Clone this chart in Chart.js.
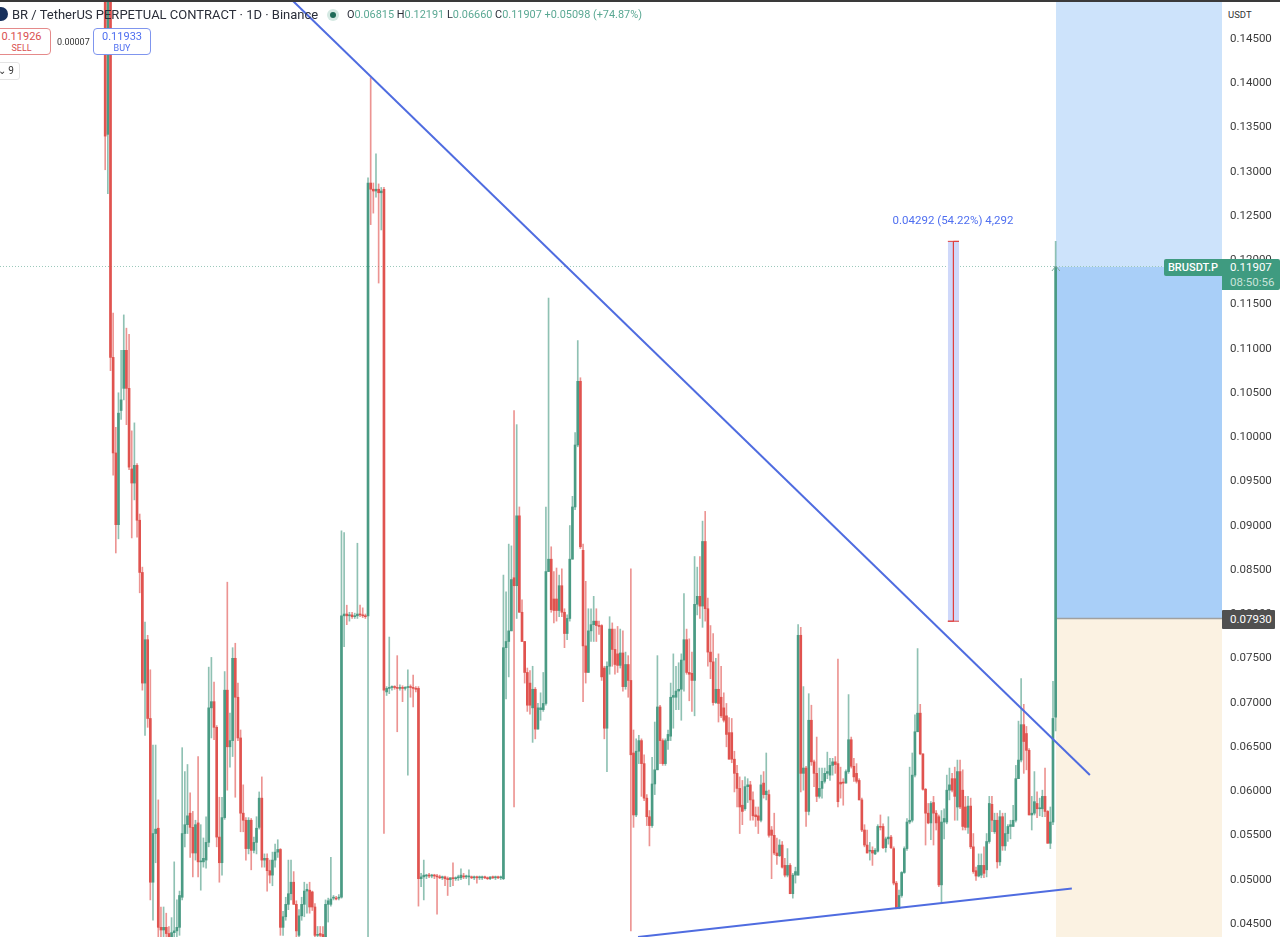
<!DOCTYPE html>
<html>
<head>
<meta charset="utf-8">
<title>BRUSDT.P</title>
<script src="https://cdn.jsdelivr.net/npm/chart.js@4/dist/chart.umd.min.js"></script>
<style>
  html, body { margin: 0; padding: 0; background: #fff; overflow: hidden; }
  #wrap { position: relative; width: 1280px; height: 937px; overflow: hidden; font-family: Roboto, sans-serif; }
  #wrap div { position: absolute; white-space: nowrap; box-sizing: border-box; }
  #topline { left: 0; top: 0; width: 1280px; height: 2px; background: #3a3a3a; }
  #logo { left: -6px; top: 7px; width: 14px; height: 14px; border-radius: 50%; background: #17305c; }
  #title { left: 12px; top: 6px; font-size: 13px; line-height: 17px; color: #2a2e39; }
  #dot { left: 327px; top: 9px; width: 12px; height: 12px; border-radius: 50%; background: #d5e9e3; }
  #dot2 { left: 330px; top: 12px; width: 6px; height: 6px; border-radius: 50%; background: #1f6b58; }
  #ohlc { left: 347px; top: 8px; font-size: 10.9px; line-height: 14px; color: #5aa893; }
  #ohlc b { font-weight: 400; color: #2a2e39; }
  .box { top: 28px; height: 27px; background: #fff; border-radius: 4px; text-align: center; font-size: 11px; line-height: 12px; padding-top: 2px; }
  .box span { display: block; font-size: 9px; line-height: 11px; }
  #sell { left: -8px; width: 59px; border: 1px solid #e58a8a; color: #d9504f; }
  #buy { left: 93px; width: 58px; border: 1px solid #7f95ee; color: #4f6ff0; }
  #spread { left: 57px; top: 36px; font-size: 9px; line-height: 12px; color: #333; }
  #fold { left: -4px; top: 62px; width: 24px; height: 18px; background: #fff; border: 1px solid #e4e4e4; border-radius: 3px; font-size: 10px; line-height: 16px; color: #333; text-align: right; padding-right: 5px; }
  #unit { left: 1224px; top: 5px; width: 54px; height: 20px; background: #fff; font-size: 9.5px; line-height: 20px; color: #333; padding-left: 4px; }
  #tagName { left: 1164px; top: 259px; width: 58px; height: 17px; background: #3f9b80; color: #fff; font-size: 11px; font-weight: 500; line-height: 17px; text-align: center; border-radius: 2px 0 0 2px; }
  #tagPrice { left: 1222px; top: 259px; width: 58px; height: 31px; background: #3f9b80; color: #fff; font-size: 11.5px; line-height: 15px; padding: 1px 0 0 8px; border-radius: 0 2px 2px 0; }
  #tagPrice span { display: block; color: #c8e3da; }
  #tagCross { left: 1222px; top: 610px; width: 53px; height: 19px; background: #505050; color: #fff; font-size: 11.5px; line-height: 19px; padding-left: 8px; border-radius: 1px; }
  #measure { left: 853px; top: 213px; width: 200px; text-align: center; font-size: 11.5px; line-height: 15px; color: #4f6ff0; }
</style>
</head>
<body>
<div id="wrap">
  <canvas id="chart" width="1280" height="937"></canvas>
  <div id="topline"></div>
  <div id="logo"></div>
  <div id="title">BR / TetherUS PERPETUAL CONTRACT · 1D · Binance</div>
  <div id="dot"></div><div id="dot2"></div>
  <div id="ohlc"><b>O</b>0.06815 <b>H</b>0.12191 <b>L</b>0.06660 <b>C</b>0.11907 +0.05098 (+74.87%)</div>
  <div id="sell" class="box">0.11926<span>SELL</span></div>
  <div id="spread">0.00007</div>
  <div id="buy" class="box">0.11933<span>BUY</span></div>
  <div id="fold">⌄ 9</div>
  <div id="unit">USDT</div>
  <div id="measure">0.04292 (54.22%) 4,292</div>
  <div id="tagName">BRUSDT.P</div>
  <div id="tagPrice">0.11907<span>08:50:56</span></div>
  <div id="tagCross">0.07930</div>
</div>
<script>
// rows are [open, high, low, close], one per daily candle
const crashLeg = [
  [.1530,.1560,.1300,.1338],[.1340,.1540,.1273,.1510],[.1510,.1540,.1073,.1088],[.1088,.1138,.0955,.0980],
  [.0980,.1009,.0867,.0899],[.0899,.1048,.0883,.1025],[.1028,.1096,.1018,.1040],[.1053,.1136,.1040,.1096],
  [.1096,.1121,.1012,.1053],[.1053,.1114,.0961,.0964],[.0962,.1005,.0884,.0946],[.0946,.1014,.0927,.0966],
  [.0966,.0968,.0885,.0904],[.0904,.0911,.0822,.0845],[.0845,.0851,.0712,.0720],[.0720,.0789,.0661,.0769],
  [.0769,.0774,.0670,.0680],[.0680,.0735,.0475,.0495],[.0495,.0650,.0452,.0550],[.0550,.0650,.0517,.0555],
  [.0556,.0588,.0430,.0444],[.0444,.0467,.0430,.0441],[.0441,.0467,.0425,.0444],[.0444,.0460,.0430,.0437],
  [.0437,.0445,.0425,.0433],[.0433,.0455,.0425,.0438],[.0438,.0518,.0430,.0440],[.0440,.0475,.0430,.0444],
  [.0444,.0485,.0435,.0480],[.0478,.0647,.0475,.0550],[.0550,.0620,.0535,.0560],[.0560,.0628,.0550,.0570],
  [.0573,.0596,.0523,.0557],[.0557,.0575,.0501,.0528],[.0528,.0565,.0520,.0560],[.0562,.0637,.0501,.0518],
  [.0518,.0560,.0486,.0518],[.0518,.0545,.0512,.0522],[.0520,.0569,.0511,.0540]
];
const firstBounce = [
  [.0540,.0738,.0535,.0692],[.0692,.0749,.0658,.0699],[.0699,.0721,.0656,.0670],[.0670,.0672,.0535,.0546],
  [.0546,.0591,.0495,.0517],[.0517,.0591,.0503,.0568],[.0568,.0733,.0566,.0712],[.0712,.0834,.0599,.0648],
  [.0648,.0686,.0625,.0655],[.0655,.0760,.0637,.0748],[.0748,.0765,.0591,.0704],[.0704,.0720,.0655,.0658],
  [.0658,.0667,.0552,.0573],[.0573,.0605,.0552,.0565],[.0565,.0568,.0520,.0533],[.0533,.0568,.0527,.0565],
  [.0565,.0567,.0509,.0531],[.0531,.0546,.0528,.0540],[.0540,.0569,.0527,.0556],[.0557,.0597,.0555,.0590],
  [.0590,.0614,.0512,.0520],[.0520,.0527,.0512,.0522],[.0522,.0527,.0485,.0508],[.0508,.0520,.0494,.0503],
  [.0503,.0529,.0491,.0520],[.0520,.0538,.0512,.0529],[.0529,.0543,.0523,.0532],[.0532,.0533,.0435,.0444],
  [.0444,.0462,.0435,.0456],[.0456,.0478,.0452,.0470],[.0470,.0520,.0464,.0482],[.0482,.0520,.0475,.0495],
  [.0495,.0507,.0470,.0470],[.0470,.0474,.0430,.0440],[.0435,.0464,.0430,.0457],[.0457,.0478,.0452,.0470],
  [.0470,.0495,.0456,.0485],[.0485,.0493,.0460,.0487],[.0486,.0495,.0460,.0467],[.0484,.0485,.0463,.0467],
  [.0467,.0471,.0428,.0435],[.0435,.0445,.0430,.0436],[.0437,.0445,.0425,.0435],[.0436,.0445,.0428,.0432],
  [.0433,.0475,.0425,.0470],[.0470,.0477,.0450,.0474],[.0470,.0523,.0468,.0476],[.0477,.0480,.0475,.0477],
  [.0477,.0479,.0475,.0476],[.0477,.0481,.0475,.0478]
];
const firstSpike = [
  [.0478,.0892,.0477,.0796],[.0796,.0890,.0761,.0798],[.0798,.0808,.0786,.0796],[.0796,.0800,.0790,.0797],
  [.0797,.0800,.0793,.0795],[.0795,.0799,.0793,.0796],[.0796,.0878,.0793,.0798],[.0798,.0808,.0795,.0797],
  [.0797,.0805,.0794,.0796],[.0796,.0798,.0793,.0795],[.0796,.1291,.0430,.1285],[.1285,.1404,.1238,.1278],
  [.1278,.1285,.1251,.1276],[.1276,.1318,.1269,.1278],[.1278,.1284,.1172,.1274],[.1274,.1280,.1232,.1276],
  [.1278,.1280,.0550,.0712],[.0710,.0716,.0706,.0714],[.0714,.0772,.0708,.0715],[.0715,.0717,.0712,.0716],
  [.0716,.0717,.0713,.0715],[.0715,.0751,.0665,.0714],[.0714,.0718,.0712,.0715],[.0715,.0717,.0699,.0714],
  [.0714,.0716,.0712,.0715],[.0715,.0735,.0616,.0716],[.0716,.0718,.0704,.0715],[.0715,.0729,.0693,.0714],
  [.0714,.0716,.0710,.0713],[.0714,.0716,.0468,.0499]
];
const flatBase = [
  [.0499,.0505,.0490,.0501],[.0501,.0520,.0475,.0503],[.0502,.0504,.0499,.0503],[.0503,.0505,.0500,.0502],
  [.0502,.0504,.0500,.0503],[.0503,.0504,.0499,.0502],[.0502,.0504,.0459,.0501],[.0501,.0503,.0499,.0500],
  [.0500,.0502,.0498,.0501],[.0501,.0502,.0491,.0499],[.0499,.0501,.0480,.0498],[.0498,.0500,.0490,.0500],
  [.0500,.0517,.0491,.0499],[.0499,.0501,.0497,.0500],[.0500,.0503,.0497,.0501],[.0500,.0510,.0498,.0503],
  [.0502,.0505,.0499,.0501],[.0501,.0503,.0499,.0502],[.0501,.0509,.0492,.0502],[.0501,.0502,.0499,.0500],
  [.0500,.0502,.0498,.0501],[.0501,.0502,.0494,.0500],[.0500,.0502,.0498,.0500],[.0500,.0502,.0498,.0501],
  [.0501,.0502,.0499,.0500],[.0500,.0501,.0498,.0499],[.0499,.0501,.0498,.0501],[.0501,.0502,.0499,.0500],
  [.0500,.0502,.0498,.0501],[.0501,.0502,.0499,.0500],[.0500,.0502,.0498,.0500]
];
const midRange = [
  [.0499,.0842,.0498,.0760],[.0760,.0823,.0702,.0767],[.0767,.0877,.0727,.0779],[.0779,.0875,.0779,.0837],
  [.0839,.1028,.0580,.0830],[.0830,.1012,.0793,.0909],[.0909,.0919,.0800,.0800],[.0800,.0814,.0767,.0767],
  [.0767,.0767,.0720,.0732],[.0732,.0737,.0688,.0695],[.0720,.0734,.0685,.0695],[.0692,.0739,.0653,.0713],
  [.0713,.0715,.0657,.0668],[.0668,.0697,.0668,.0692],[.0690,.0709,.0678,.0692],[.0690,.0732,.0688,.0697],
  [.0697,.0919,.0695,.0846],[.0846,.1155,.0846,.0860],[.0860,.0874,.0800,.0803],[.0815,.0846,.0788,.0802],
  [.0815,.0850,.0790,.0802],[.0802,.0842,.0795,.0830],[.0830,.0849,.0795,.0800],[.0800,.0804,.0760,.0776],
  [.0776,.0797,.0769,.0793],[.0793,.0898,.0790,.0860],[.0860,.0931,.0860,.0919],[.0919,.1003,.0916,.0989],
  [.0989,.1107,.0987,.1061],[.1061,.1065,.0872,.0874],[.0870,.0877,.0699,.0762],[.0762,.0835,.0720,.0732],
  [.0732,.0804,.0732,.0779],[.0779,.0804,.0767,.0786],[.0786,.0818,.0767,.0790],[.0790,.0804,.0767,.0785],
  [.0785,.0790,.0775,.0784],[.0785,.0786,.0723,.0727],[.0737,.0739,.0657,.0669],[.0669,.0744,.0620,.0739],
  [.0739,.0795,.0730,.0781],[.0781,.0788,.0739,.0758],[.0758,.0781,.0730,.0741],[.0753,.0784,.0732,.0740],
  [.0740,.0781,.0737,.0754],[.0754,.0779,.0711,.0716],[.0716,.0755,.0713,.0741],[.0741,.0751,.0704,.0723],
  [.0723,.0849,.0440,.0639],[.0641,.0667,.0557,.0571],[.0571,.0657,.0569,.0643],[.0643,.0661,.0629,.0655],
  [.0655,.0657,.0592,.0629],[.0629,.0639,.0587,.0590],[.0590,.0594,.0559,.0569],[.0569,.0576,.0536,.0559],
  [.0559,.0636,.0557,.0606],[.0606,.0676,.0594,.0622],[.0622,.0751,.0622,.0693],[.0693,.0695,.0629,.0655],
  [.0655,.0657,.0627,.0629],[.0629,.0657,.0627,.0655],[.0655,.0667,.0645,.0662],[.0660,.0720,.0655,.0704],
  [.0704,.0753,.0669,.0706],[.0704,.0739,.0690,.0711],[.0711,.0743,.0690,.0713],[.0713,.0753,.0678,.0746],
  [.0746,.0821,.0711,.0769],[.0769,.0781,.0730,.0732],[.0732,.0770,.0700,.0730],[.0731,.0755,.0688,.0723],
  [.0723,.0863,.0683,.0809],[.0809,.0851,.0797,.0818],[.0818,.0863,.0793,.0807],[.0807,.0903,.0783,.0880],
  [.0880,.0914,.0790,.0804],[.0804,.0816,.0739,.0755],[.0755,.0785,.0725,.0744],[.0744,.0776,.0695,.0698],
  [.0698,.0748,.0697,.0713],[.0713,.0753,.0676,.0697],[.0704,.0739,.0681,.0683],[.0692,.0709,.0676,.0678],
  [.0683,.0697,.0648,.0662],[.0664,.0681,.0634,.0634],[.0664,.0680,.0630,.0634],[.0634,.0643,.0597,.0618],
  [.0618,.0627,.0580,.0601],[.0601,.0614,.0550,.0580]
];
const lowerRange = [
  [.0582,.0610,.0560,.0575],[.0578,.0614,.0576,.0603],[.0603,.0612,.0585,.0605],[.0605,.0609,.0565,.0588],
  [.0588,.0597,.0565,.0570],[.0571,.0580,.0558,.0569],[.0570,.0580,.0550,.0565],[.0565,.0616,.0563,.0605],
  [.0607,.0620,.0590,.0594],[.0594,.0641,.0588,.0598],[.0594,.0599,.0546,.0548],[.0554,.0558,.0499,.0548],
  [.0548,.0573,.0526,.0528],[.0528,.0545,.0515,.0525],[.0525,.0543,.0524,.0537],[.0537,.0541,.0511,.0512],
  [.0514,.0522,.0501,.0503],[.0503,.0533,.0501,.0514],[.0514,.0516,.0482,.0482],[.0482,.0505,.0477,.0503],
  [.0503,.0512,.0494,.0507],[.0503,.0786,.0503,.0774],[.0774,.0783,.0597,.0618],[.0618,.0716,.0599,.0624],
  [.0624,.0626,.0558,.0575],[.0575,.0708,.0571,.0678],[.0678,.0695,.0627,.0631],[.0631,.0633,.0603,.0618],
  [.0618,.0659,.0586,.0592],[.0592,.0624,.0590,.0601],[.0601,.0624,.0590,.0609],[.0609,.0624,.0607,.0618],
  [.0618,.0642,.0612,.0620],[.0616,.0635,.0610,.0627],[.0627,.0635,.0616,.0631],[.0631,.0637,.0618,.0628],
  [.0629,.0747,.0580,.0586],[.0608,.0625,.0590,.0606],[.0608,.0612,.0582,.0607],[.0607,.0622,.0607,.0620],
  [.0620,.0707,.0618,.0656],[.0656,.0659,.0624,.0626],[.0626,.0635,.0609,.0614],[.0618,.0629,.0607,.0609],
  [.0610,.0612,.0588,.0588],[.0588,.0590,.0552,.0554],[.0554,.0560,.0535,.0537],[.0537,.0554,.0528,.0528],
  [.0530,.0540,.0520,.0530],[.0531,.0535,.0514,.0528],[.0527,.0533,.0526,.0531],[.0530,.0560,.0529,.0558],
  [.0558,.0571,.0554,.0557],[.0558,.0561,.0533,.0534],[.0534,.0546,.0529,.0544],[.0544,.0569,.0538,.0546],
  [.0546,.0548,.0533,.0534],[.0533,.0535,.0492,.0494],[.0494,.0496,.0465,.0465],[.0465,.0486,.0465,.0480],
  [.0480,.0507,.0478,.0506],[.0506,.0535,.0505,.0533],[.0533,.0567,.0531,.0563],[.0563,.0625,.0561,.0565],
  [.0565,.0641,.0563,.0616],[.0616,.0684,.0614,.0665],[.0665,.0759,.0665,.0686],[.0686,.0696,.0639,.0640],
  [.0640,.0640,.0599,.0600],[.0600,.0601,.0537,.0573],[.0573,.0584,.0561,.0562],[.0562,.0586,.0543,.0584],
  [.0585,.0592,.0537,.0573],[.0573,.0576,.0554,.0562],[.0569,.0571,.0490,.0492],[.0492,.0576,.0471,.0563],
  [.0563,.0578,.0544,.0567],[.0563,.0616,.0561,.0599],[.0599,.0624,.0588,.0605],[.0612,.0618,.0597,.0599],
  [.0612,.0625,.0565,.0592],[.0580,.0633,.0565,.0620],[.0620,.0633,.0578,.0580],[.0599,.0622,.0554,.0558],
  [.0580,.0592,.0554,.0557],[.0557,.0592,.0550,.0581],[.0581,.0590,.0533,.0535],[.0535,.0550,.0505,.0507],
  [.0508,.0512,.0497,.0502],[.0502,.0527,.0501,.0514],[.0503,.0527,.0500,.0514],[.0514,.0535,.0500,.0505],
  [.0509,.0550,.0501,.0541],[.0541,.0592,.0539,.0584],[.0583,.0592,.0552,.0565],[.0552,.0573,.0550,.0565],
  [.0565,.0573,.0511,.0518],[.0518,.0576,.0514,.0569],[.0569,.0573,.0531,.0536],[.0536,.0573,.0531,.0550],
  [.0550,.0560,.0541,.0558],[.0558,.0565,.0544,.0560],[.0558,.0582,.0558,.0565],[.0565,.0627,.0563,.0612],
  [.0612,.0677,.0612,.0633],[.0633,.0725,.0631,.0673],[.0673,.0696,.0618,.0654],[.0663,.0671,.0622,.0644],
  [.0644,.0646,.0571,.0571],[.0571,.0592,.0554,.0573],[.0573,.0620,.0571,.0586],[.0584,.0597,.0568,.0578],
  [.0578,.0590,.0570,.0578],[.0578,.0599,.0569,.0592],[.0592,.0624,.0569,.0575],[.0575,.0576,.0539,.0539],
  [.0539,.0580,.0533,.0563],[.0563,.0722,.0560,.0680],[.06815,.12191,.0666,.11907]
];

const priceTicksStep = 0.005;
const priceRange = [0.04331, 0.14918];      // visible prices, bottom and top of the pane
const dayRange = [-39.62, 420.66];          // visible day numbers, left and right of the pane
const lastPrice = [0.11907];
const entryPrice = [0.0793];
const zoneDays = [358.1, 420.66];
const zoneTops = [0.1492, 0.11907, 0.0793];
const zoneBottoms = [0.11907, 0.0793, 0.0433];
const resistanceDays = [70.36, 370.9];
const resistancePrices = [0.14918, 0.06161];
const supportDays = [200.7, 364.1];
const supportPrices = [0.04331, 0.04879];
const measureDays = [317.4, 319.5, 321.6];
const measurePrices = [0.07899, 0.12191];
const caretDays = [356.6, 358.1, 359.6];
const caretPrices = [0.11856, 0.11912, 0.11856];

const candles = [...crashLeg, ...firstBounce, ...firstSpike, ...flatBase, ...midRange, ...lowerRange];

const GREEN = "#4a9b84";
const RED = "#e0534f";
const GREEN_WICK = "rgba(74,155,132,.62)";
const RED_WICK = "rgba(224,83,79,.62)";
const BLUE = "#4f6ce0";

const barSet = (data, color, thickness, order) => ({
  type: "bar",
  data,
  backgroundColor: color,
  barThickness: thickness,
  grouped: false,
  order,
  minBarLength: 1,
  borderWidth: 0,
});

const lineSet = (data, color, width, order, extra = {}) => ({
  type: "line",
  data,
  borderColor: color,
  borderWidth: width,
  pointRadius: 0,
  tension: 0,
  fill: false,
  order,
  ...extra,
});

const isUp = (row) => row[3] >= row[0];
const wicks = (up) =>
  candles
    .map((row, i) => ({ x: i, y: [row[2], row[1]], up: isUp(row) }))
    .filter((p) => p.up === up);
const bodies = (up) =>
  candles
    .map((row, i) => ({ x: i, y: [Math.min(row[0], row[3]), Math.max(row[0], row[3])], up: isUp(row) }))
    .filter((p) => p.up === up);

const zone = (i, color) =>
  lineSet(
    zoneDays.map((x) => ({ x, y: zoneTops[i] })),
    "transparent",
    0,
    20,
    { fill: { value: zoneBottoms[i] }, backgroundColor: color },
  );

const [mLeft, mMid, mRight] = measureDays;
const [mLow, mHigh] = measurePrices;

new Chart(document.getElementById("chart"), {
  data: {
    datasets: [
      zone(0, "#cde3fb"),
      zone(1, "#a9cff8"),
      zone(2, "#fbf2e2"),
      lineSet(zoneDays.map((x) => ({ x, y: entryPrice[0] })), "#a0a0a0", 1.5, 19),
      lineSet(dayRange.map((x) => ({ x, y: lastPrice[0] })), "#9ac8bb", 1, 18, { borderDash: [1, 2] }),
      lineSet(
        [{ x: mLeft, y: mHigh }, { x: mRight, y: mHigh }],
        "transparent",
        0,
        17,
        { fill: { value: mLow }, backgroundColor: "#cfd8fa" },
      ),
      barSet(wicks(true), GREEN_WICK, 1, 9),
      barSet(wicks(false), RED_WICK, 1, 8),
      barSet(bodies(true), GREEN, 2, 7),
      barSet(bodies(false), RED, 2, 6),
      lineSet(
        [
          { x: mLeft, y: mHigh }, { x: mRight, y: mHigh }, { x: mMid, y: mHigh },
          { x: mMid, y: mLow }, { x: mLeft, y: mLow }, { x: mRight, y: mLow },
        ],
        "#e0403f",
        1,
        3,
      ),
      lineSet(
        caretDays.map((x, i) => ({ x, y: caretPrices[i] })),
        "#7fa99c",
        1,
        3,
      ),
      lineSet(
        resistanceDays.map((x, i) => ({ x, y: resistancePrices[i] })),
        BLUE,
        2,
        2,
      ),
      lineSet(
        supportDays.map((x, i) => ({ x, y: supportPrices[i] })),
        BLUE,
        2,
        2,
      ),
    ],
  },
  options: {
    responsive: false,
    animation: false,
    layout: { padding: 0 },
    plugins: { legend: { display: false }, tooltip: { enabled: false } },
    scales: {
      x: {
        type: "linear",
        offset: false,
        min: dayRange[0],
        max: dayRange[1],
        display: false,
      },
      y: {
        type: "linear",
        offset: false,
        position: "right",
        min: priceRange[0],
        max: priceRange[1],
        afterFit(scale) {
          // pane runs edge to edge, the tick labels would otherwise inset it
          scale.width = 58;
          scale.paddingTop = 0;
          scale.paddingBottom = 0;
        },
        grid: { display: false, drawTicks: false },
        border: { display: false },
        ticks: {
          stepSize: priceTicksStep,
          includeBounds: false,
          autoSkip: false,
          maxRotation: 0,
          padding: 8,
          labelOffset: 2,
          crossAlign: "near",
          color: "#3c3c3c",
          font: { family: "Roboto", size: 11.5 },
          callback: (v) => v.toFixed(5),
        },
      },
    },
  },
});
</script>
</body>
</html>
